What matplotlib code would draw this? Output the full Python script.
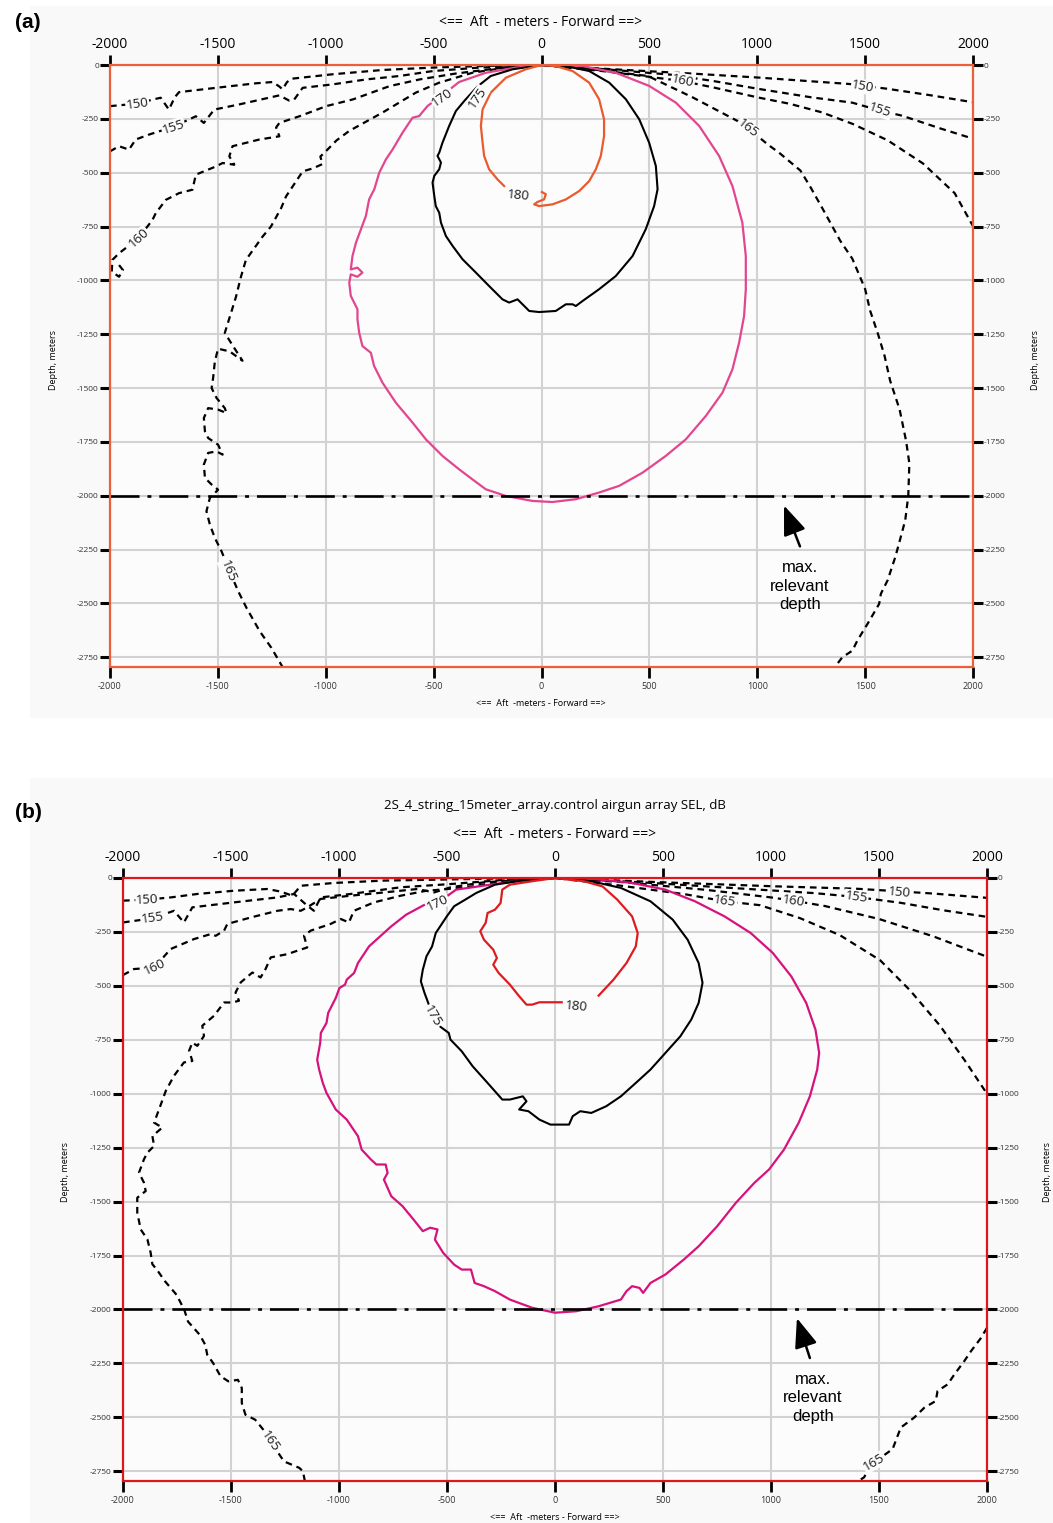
import matplotlib
matplotlib.use("Agg")
import matplotlib.pyplot as plt
from matplotlib.patches import Rectangle

# ---- axes / reference values ---------------------------------------------
XTICKS = [-2000, -1500, -1000, -500, 0, 500, 1000, 1500, 2000]
YTICKS = [0, -250, -500, -750, -1000, -1250, -1500, -1750, -2000, -2250,
          -2500, -2750]
DEPTH_LIMIT = -2795
MAX_DEPTH = -2000          # "max. relevant depth"
TITLE_B = "2S_4_string_15meter_array.control airgun array SEL, dB"

# ---- panel (a) contours (x m, depth m) ------------------------------------
A150 = [(-2000, -191), (-1935, -185), (-1873, -180), (-1800, -160),
        (-1765, -152), (-1727, -207), (-1700, -150), (-1680, -126),
        (-1509, -106), (-1324, -85), (-1246, -79), (-1215, -100),
        (-1200, -113), (-1180, -80), (-1161, -64), (-968, -43), (-735, -23),
        (-503, -12), (-250, -4), (0, 0), (300, -18), (700, -40), (1000, -58),
        (1425, -88), (1600, -110), (1800, -140), (2000, -173)]
A155 = [(-2000, -401), (-1958, -377), (-1912, -393), (-1881, -346),
        (-1819, -323), (-1707, -287), (-1602, -238), (-1565, -269),
        (-1517, -207), (-1401, -183), (-1215, -141), (-1170, -165),
        (-1146, -160), (-1107, -106), (-968, -90), (-813, -67), (-658, -51),
        (-503, -28), (-287, -12), (0, 0), (300, -20), (600, -45), (800, -75),
        (1000, -110), (1250, -150), (1441, -175), (1570, -212), (1670, -235),
        (1850, -295), (2000, -342)]
A160 = [(-1958, -929), (-1940, -952), (-1958, -983), (-1992, -960),
        (-1989, -905), (-1958, -874), (-1868, -804), (-1803, -719),
        (-1788, -688), (-1741, -626), (-1680, -595), (-1618, -579),
        (-1602, -509), (-1509, -471), (-1478, -455), (-1424, -463),
        (-1447, -424), (-1432, -377), (-1308, -346), (-1215, -331),
        (-1230, -290), (-1215, -269), (-1122, -238), (-998, -191),
        (-875, -160), (-704, -98), (-565, -67), (-400, -40), (-200, -15),
        (0, 0), (300, -30), (500, -55), (656, -75), (800, -105), (1000, -150),
        (1150, -180), (1300, -220), (1441, -273), (1605, -350), (1768, -457),
        (1915, -595), (2000, -748)]
A165 = [(-1198, -2799), (-1252, -2706), (-1306, -2629), (-1367, -2521),
        (-1406, -2443), (-1445, -2351), (-1483, -2258), (-1514, -2196),
        (-1537, -2134), (-1553, -2072), (-1537, -2010), (-1499, -1972),
        (-1529, -1948), (-1560, -1917), (-1565, -1855), (-1545, -1801),
        (-1506, -1794), (-1478, -1809), (-1499, -1763), (-1545, -1732),
        (-1560, -1701), (-1565, -1639), (-1545, -1593), (-1499, -1600),
        (-1460, -1616), (-1468, -1593), (-1506, -1546), (-1529, -1500),
        (-1522, -1453), (-1514, -1376), (-1499, -1317), (-1445, -1330),
        (-1386, -1373), (-1429, -1306), (-1468, -1244), (-1440, -1154),
        (-1416, -1076), (-1393, -983), (-1370, -905), (-1293, -797),
        (-1254, -750), (-1207, -665), (-1184, -610), (-1107, -494),
        (-1060, -480), (-1015, -460), (-1025, -425), (-999, -400),
        (-950, -350), (-891, -306), (-737, -221), (-582, -128), (-474, -82),
        (-320, -36), (-165, -12), (0, 0), (150, -10), (493, -51),
        (700, -150), (918, -265), (957, -293), (1050, -370), (1101, -407),
        (1200, -490), (1245, -564), (1310, -680), (1384, -815), (1441, -900),
        (1500, -1040), (1523, -1140), (1560, -1250), (1590, -1350),
        (1616, -1466), (1660, -1600), (1690, -1746), (1705, -1850),
        (1700, -2000), (1686, -2113), (1661, -2207), (1640, -2284),
        (1604, -2393), (1573, -2455), (1565, -2502), (1511, -2595),
        (1464, -2672), (1441, -2719), (1394, -2750), (1360, -2795)]
A170 = [(0, 0), (-119, -12), (-258, -36), (-382, -79), (-459, -140),
        (-528, -190), (-567, -237), (-598, -245), (-644, -314), (-690, -392),
        (-721, -438), (-752, -500), (-775, -577), (-799, -624), (-814, -701),
        (-837, -763), (-860, -825), (-876, -887), (-884, -949), (-853, -941),
        (-830, -964), (-853, -983), (-884, -972), (-891, -1011),
        (-884, -1072), (-853, -1134), (-853, -1181), (-845, -1243),
        (-830, -1305), (-791, -1336), (-776, -1397), (-737, -1475),
        (-675, -1568), (-598, -1660), (-536, -1738), (-459, -1815),
        (-382, -1877), (-320, -1924), (-258, -1970), (-165, -2001),
        (-42, -2024), (51, -2029), (159, -2016), (267, -1985), (360, -1954),
        (468, -1893), (576, -1815), (669, -1738), (762, -1629), (839, -1521),
        (885, -1413), (916, -1289), (939, -1165), (947, -1041), (947, -887),
        (931, -732), (885, -562), (823, -422), (731, -283), (623, -175),
        (499, -97), (344, -36), (190, -5), (0, 0)]
A175 = [(0, 0), (-134, -20), (-235, -51), (-297, -100), (-358, -167),
        (-397, -214), (-428, -283), (-459, -361), (-474, -407), (-482, -422),
        (-466, -453), (-474, -484), (-497, -515), (-505, -546), (-497, -608),
        (-490, -655), (-474, -686), (-466, -732), (-443, -794), (-412, -840),
        (-366, -902), (-304, -964), (-243, -1026), (-181, -1088),
        (-150, -1103), (-111, -1088), (-88, -1111), (-57, -1142),
        (-11, -1147), (66, -1142), (113, -1111), (144, -1111), (159, -1119),
        (190, -1096), (267, -1041), (344, -980), (422, -887), (483, -763),
        (522, -655), (538, -577), (530, -469), (499, -361), (453, -252),
        (391, -159), (314, -82), (221, -28), (113, -5), (0, 0)]
A180_L = [(0, 0), (-73, -20), (-165, -59), (-235, -128), (-273, -206),
          (-281, -283), (-273, -361), (-266, -422), (-243, -484),
          (-204, -531), (-173, -562)]
A180_R = [(2, -590), (20, -600), (12, -624), (-19, -636), (-34, -647),
          (-11, -655), (51, -647), (113, -624), (175, -585), (221, -539),
          (252, -484), (275, -422), (290, -330), (290, -252), (267, -159),
          (221, -82), (144, -28), (66, -5), (0, 0)]

# ---- panel (b) contours ----------------------------------------------------
B150 = [(-2000, -105), (-1887, -100), (-1779, -90), (-1656, -74),
        (-1486, -59), (-1332, -51), (-1270, -63), (-1216, -82), (-1177, -36),
        (-1023, -23), (-792, -12), (-560, -8), (-300, -3), (0, 0),
        (500, -20), (1000, -38), (1400, -50), (1595, -62), (1750, -72),
        (2000, -92)]
B155 = [(-2000, -206), (-1864, -187), (-1764, -152), (-1718, -206),
        (-1679, -136), (-1486, -113), (-1285, -90), (-1208, -74),
        (-1147, -128), (-1116, -152), (-1085, -90), (-946, -74), (-714, -43),
        (-483, -28), (-250, -10), (0, 0), (400, -20), (800, -45),
        (1200, -70), (1395, -88), (1600, -115), (1800, -150), (2000, -180)]
B160 = [(-2000, -450), (-1949, -422), (-1856, -415), (-1779, -329),
        (-1671, -283), (-1594, -260), (-1571, -268), (-1532, -244),
        (-1517, -213), (-1409, -183), (-1285, -152), (-1224, -144),
        (-1177, -152), (-1147, -136), (-1085, -97), (-946, -82), (-792, -67),
        (-637, -51), (-560, -67), (-483, -43), (-329, -20), (0, 0),
        (300, -18), (700, -55), (1000, -90), (1102, -105), (1250, -130),
        (1500, -190), (1750, -270), (2000, -365)]
B165_L = [(-1158, -2796), (-1167, -2750), (-1184, -2734), (-1255, -2704),
          (-1317, -2611), (-1344, -2565), (-1388, -2511), (-1433, -2488),
          (-1450, -2434), (-1450, -2364), (-1468, -2326), (-1512, -2333),
          (-1548, -2310), (-1583, -2248), (-1610, -2210), (-1619, -2164),
          (-1645, -2117), (-1699, -2056), (-1716, -2002), (-1752, -1932),
          (-1805, -1870), (-1840, -1820), (-1864, -1790), (-1872, -1737),
          (-1887, -1675), (-1918, -1629), (-1934, -1551), (-1934, -1482),
          (-1895, -1451), (-1903, -1412), (-1926, -1366), (-1903, -1304),
          (-1887, -1273), (-1856, -1242), (-1864, -1196), (-1818, -1157),
          (-1856, -1134), (-1833, -1072), (-1802, -987), (-1764, -917),
          (-1718, -855), (-1679, -848), (-1694, -801), (-1679, -763),
          (-1656, -778), (-1625, -732), (-1633, -685), (-1579, -639),
          (-1532, -577), (-1494, -577), (-1463, -569), (-1479, -531),
          (-1455, -484), (-1401, -438), (-1363, -461), (-1340, -422),
          (-1316, -368), (-1239, -353), (-1193, -337), (-1147, -322),
          (-1162, -268), (-1131, -244), (-1039, -213), (-992, -190),
          (-954, -206), (-931, -152), (-838, -113), (-714, -82), (-600, -60),
          (-406, -43), (-267, -20), (0, 0), (300, -35), (600, -75),
          (787, -108), (949, -126), (1134, -186), (1319, -265), (1505, -381),
          (1644, -521), (1782, -684), (1898, -847), (2000, -1000)]
B165_R = [(2000, -2085), (1972, -2132), (1926, -2193), (1895, -2239),
          (1849, -2301), (1818, -2347), (1771, -2378), (1763, -2424),
          (1710, -2455), (1663, -2501), (1601, -2547), (1563, -2647),
          (1478, -2708), (1447, -2747), (1431, -2778), (1408, -2793)]
B170 = [(0, 0), (-244, -23), (-458, -54), (-544, -116), (-604, -124),
        (-689, -170), (-758, -224), (-818, -278), (-861, -317), (-912, -394),
        (-930, -440), (-964, -471), (-972, -494), (-998, -510),
        (-1015, -556), (-1050, -625), (-1058, -672), (-1084, -718),
        (-1087, -764), (-1101, -842), (-1092, -888), (-1075, -950),
        (-1058, -996), (-1015, -1073), (-964, -1120), (-912, -1197),
        (-895, -1259), (-852, -1305), (-827, -1328), (-784, -1328),
        (-775, -1367), (-792, -1398), (-758, -1475), (-706, -1521),
        (-655, -1583), (-612, -1637), (-578, -1621), (-544, -1629),
        (-556, -1676), (-518, -1737), (-467, -1792), (-432, -1815),
        (-389, -1815), (-372, -1877), (-329, -1892), (-278, -1915),
        (-209, -1954), (-106, -1992), (0, -2015), (99, -2008), (202, -1985),
        (305, -1954), (331, -1915), (357, -1892), (391, -1900), (408, -1923),
        (442, -1877), (511, -1838), (597, -1768), (665, -1707), (751, -1614),
        (837, -1506), (923, -1413), (991, -1351), (1060, -1259),
        (1128, -1135), (1180, -1012), (1214, -888), (1223, -811),
        (1206, -703), (1163, -579), (1094, -456), (1008, -347), (906, -255),
        (785, -178), (648, -108), (511, -54), (357, -23), (185, -5), (0, 0)]
B175 = [(0, 0), (-158, -12), (-278, -31), (-364, -69), (-415, -100),
        (-467, -131), (-501, -178), (-552, -255), (-569, -317), (-595, -363),
        (-612, -425), (-621, -479), (-604, -533), (-587, -579), (-566, -641),
        (-530, -690), (-492, -718), (-484, -749), (-432, -803), (-381, -873),
        (-312, -950), (-244, -1027), (-209, -1027), (-149, -1012),
        (-132, -1035), (-166, -1073), (-123, -1081), (-72, -1120),
        (-21, -1143), (65, -1143), (82, -1104), (117, -1081), (168, -1089),
        (237, -1058), (305, -1012), (374, -950), (442, -888), (511, -811),
        (580, -734), (631, -656), (665, -579), (683, -486), (665, -394),
        (614, -286), (545, -193), (442, -108), (305, -46), (168, -15), (0, 0)]
B180_L = [(0, 0), (-106, -15), (-209, -31), (-244, -54), (-252, -116),
          (-278, -147), (-312, -162), (-321, -208), (-346, -247),
          (-329, -286), (-286, -332), (-269, -371), (-286, -402),
          (-261, -440), (-209, -494), (-166, -548), (-132, -587),
          (-106, -587), (-72, -576), (31, -576)]
B180_R = [(0, 0), (134, -15), (220, -39), (288, -100), (357, -178),
          (383, -255), (374, -317), (331, -394), (271, -471), (202, -545)]

# contour level labels: (text, x, depth, rotation)
A_LABELS = [("150", -1873, -183, 8), ("155", -1707, -287, 18),
            ("160", -1868, -804, 42), ("165", -1453, -2351, -68),
            ("170", -459, -150, 35), ("175", -297, -152, 55),
            ("180", -109, -605, -5), ("160", 656, -72, -12),
            ("150", 1490, -100, -10), ("155", 1569, -209, -18),
            ("165", 957, -293, -38)]
B_LABELS = [("150", -1887, -100, 3), ("155", -1864, -187, 8),
            ("160", -1856, -415, 25), ("165", -1317, -2611, -55),
            ("170", -544, -116, 25), ("175", -566, -641, -60),
            ("180", 99, -595, -5), ("165", 787, -108, -8),
            ("160", 1102, -105, -8), ("155", 1395, -90, -8),
            ("150", 1595, -65, -5), ("165", 1478, -2708, 30)]

SANS = ["Open Sans", "DejaVu Sans"]
ARIAL = ["Liberation Sans", "DejaVu Sans"]
AX_BG = "#fcfcfc"
DASHED = dict(color="black", lw=1.6, ls=(0, (3, 2.2)))


def xs(seg):
    return [p[0] for p in seg]


def ys(seg):
    return [p[1] for p in seg]


def draw_panel(fig, rect, segs, labels, spine, magenta, orange, arrow):
    ax = fig.add_axes(rect)
    ax.set_facecolor(AX_BG)
    ax.set_xlim(XTICKS[0], XTICKS[-1])
    ax.set_ylim(DEPTH_LIMIT, 0)
    ax.grid(True, color="#d2d2d2", lw=1.5)
    ax.set_axisbelow(True)

    for kind, seg in segs:
        if kind == "dash":
            ax.plot(xs(seg), ys(seg), **DASHED)
        elif kind == "black":
            ax.plot(xs(seg), ys(seg), color="black", lw=1.5)
        elif kind == "magenta":
            ax.plot(xs(seg), ys(seg), color=magenta, lw=1.6)
        else:
            ax.plot(xs(seg), ys(seg), color=orange, lw=1.6)

    ax.plot([XTICKS[0], XTICKS[-1]], [MAX_DEPTH, MAX_DEPTH], color="black",
            lw=1.9, ls=(0, (11, 3, 1.5, 3)))

    for txt, x, y, rot in labels:
        ax.text(x, y, txt, ha="center", va="center", rotation=rot,
                fontsize=9.5, color="#1a1a1a", family=SANS,
                rotation_mode="anchor",
                bbox=dict(fc=AX_BG, ec="none", pad=0.6))

    tip, tail, txt_xy = arrow
    ax.annotate("", xy=tip, xytext=tail,
                arrowprops=dict(arrowstyle="-|>,head_length=0.9,head_width=0.35",
                                color="black", lw=1.8, mutation_scale=20,
                                shrinkA=0, shrinkB=0))
    ax.text(txt_xy[0], txt_xy[1], "max.\nrelevant\ndepth", ha="center",
            va="center", fontsize=12, linespacing=1.3, family=ARIAL)

    for s in ax.spines.values():
        s.set_color(spine)
        s.set_linewidth(1.6)

    ax.set_xticks(XTICKS, labels=[str(v) for v in XTICKS])
    ax.set_yticks(YTICKS, labels=[str(v) for v in YTICKS])
    ax.tick_params(axis="x", direction="out", length=8, width=2,
                   color="black", labelsize=6.5, labelcolor="#333333", pad=3)
    ax.tick_params(axis="y", direction="out", length=7, width=2.2,
                   color="black", labelsize=6, labelcolor="#333333", pad=1,
                   left=True, right=True, labelleft=True, labelright=True)
    for lab in ax.get_xticklabels() + ax.get_yticklabels():
        lab.set_family(SANS)

    top = ax.secondary_xaxis("top")
    top.set_xticks(XTICKS, labels=[str(v) for v in XTICKS])
    top.tick_params(direction="out", length=7, width=2, color="black",
                    labelsize=10, pad=2)
    top.spines["top"].set_visible(False)
    for lab in top.get_xticklabels():
        lab.set_family(SANS)
    return ax


fig = plt.figure(figsize=(10.53, 15.23), dpi=100)
fig.patch.set_facecolor("white")
W, H = 1053.0, 1523.0
fig.add_artist(Rectangle((30 / W, 1 - 718 / H), 1 - 30 / W, 712 / H,
                         transform=fig.transFigure, fc="#f9f9f9", ec="none",
                         zorder=0))
fig.add_artist(Rectangle((30 / W, 0), 1 - 30 / W, 1 - 778 / H,
                         transform=fig.transFigure, fc="#f9f9f9", ec="none",
                         zorder=0))

segs_a = [("dash", A150), ("dash", A155), ("dash", A160), ("dash", A165),
          ("magenta", A170), ("black", A175), ("orange", A180_L),
          ("orange", A180_R)]
segs_b = [("dash", B150), ("dash", B155), ("dash", B160), ("dash", B165_L),
          ("dash", B165_R), ("magenta", B170), ("black", B175),
          ("orange", B180_L), ("orange", B180_R)]

draw_panel(fig, [110 / W, 1 - 667 / H, 863 / W, 602 / H], segs_a, A_LABELS,
           "#ec5f3a", "#e2468f", "#ea5a2e",
           ((1124, -2045), (1198, -2235), (1198, -2420)))
draw_panel(fig, [123 / W, 1 - 1481 / H, 864 / W, 603 / H], segs_b, B_LABELS,
           "#e0161f", "#d6137d", "#dd1c22",
           ((1120, -2040), (1180, -2225), (1195, -2410)))

# figure-level texts
for y_top, y_bot, y_dep, xc, xl, xr in [(22, 703, 360, 541, 53, 1035),
                                         (834, 1517, 1172, 555, 65, 1047)]:
    fig.text(xc / W, 1 - y_top / H, "<==  Aft  - meters - Forward ==>",
             ha="center", va="center", fontsize=10, family=SANS)
    fig.text(xc / W, 1 - y_bot / H, "<==  Aft  -meters - Forward ==>",
             ha="center", va="center", fontsize=6.5, family=SANS)
    for xx in (xl, xr):
        fig.text(xx / W, 1 - y_dep / H, "Depth, meters", rotation=90,
                 ha="center", va="center", fontsize=6.5, family=SANS)

fig.text(555 / W, 1 - 805 / H, TITLE_B, ha="center", va="center",
         fontsize=9.5, family=SANS)
fig.text(28 / W, 1 - 22 / H, "(a)", ha="center", va="center", fontsize=15,
         fontweight="bold", family=ARIAL)
fig.text(28 / W, 1 - 813 / H, "(b)", ha="center", va="center", fontsize=15,
         fontweight="bold", family=ARIAL)

fig.savefig("out.png", dpi=100)
